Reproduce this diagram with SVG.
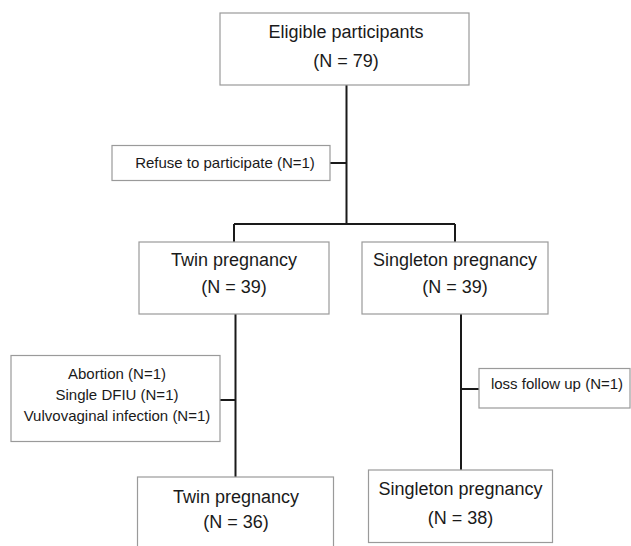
<svg xmlns="http://www.w3.org/2000/svg" width="631" height="546" viewBox="0 0 631 546">
<style>
.box{fill:#fff;stroke:#9a9a9a;stroke-width:1.2}
.t{font-family:"Liberation Sans",Arial,sans-serif;font-size:18px;fill:#1a1a1a;text-anchor:middle}
.s{font-family:"Liberation Sans",Arial,sans-serif;font-size:15px;fill:#1a1a1a;text-anchor:middle}
.c{fill:none;stroke:#1a1a1a;stroke-width:2}
</style>
<rect width="631" height="546" fill="#fff"/>
<g id="connectors">
<path class="c" d="M346.5,85V224M330,163H346.5M234,224H455M234,224V242M455,224V242M235.5,314V477M220,400H235.5M461,314V470M461,389H479"/>
</g>
<g id="eligible">
<rect class="box" x="220" y="13" width="249" height="72"/>
<text class="t" x="346" y="38">Eligible participants</text>
<text class="t" x="346" y="67">(N = 79)</text>
</g>
<g id="refuse">
<rect class="box" x="112" y="145.5" width="218" height="35"/>
<text class="s" x="225" y="168">Refuse to participate (N=1)</text>
</g>
<g id="twin1">
<rect class="box" x="139" y="242" width="190" height="72"/>
<text class="t" x="234" y="266">Twin pregnancy</text>
<text class="t" x="234" y="293">(N = 39)</text>
</g>
<g id="singleton1">
<rect class="box" x="362" y="242" width="186" height="72"/>
<text class="t" x="455" y="266">Singleton pregnancy</text>
<text class="t" x="455" y="293">(N = 39)</text>
</g>
<g id="twin-excl">
<rect class="box" x="11" y="355.5" width="209" height="86"/>
<text class="s" x="117" y="378.5">Abortion (N=1)</text>
<text class="s" x="117" y="399.5">Single DFIU (N=1)</text>
<text class="s" x="117" y="420.5">Vulvovaginal infection (N=1)</text>
</g>
<g id="loss">
<rect class="box" x="479" y="368.5" width="151" height="39.5"/>
<text class="s" x="557" y="389">loss follow up (N=1)</text>
</g>
<g id="twin2">
<rect class="box" x="137.5" y="477" width="196" height="80"/>
<text class="t" x="236" y="503">Twin pregnancy</text>
<text class="t" x="236" y="528">(N = 36)</text>
</g>
<g id="singleton2">
<rect class="box" x="368.5" y="470" width="184" height="72.5"/>
<text class="t" x="460.5" y="495">Singleton pregnancy</text>
<text class="t" x="460.5" y="524">(N = 38)</text>
</g>
</svg>
